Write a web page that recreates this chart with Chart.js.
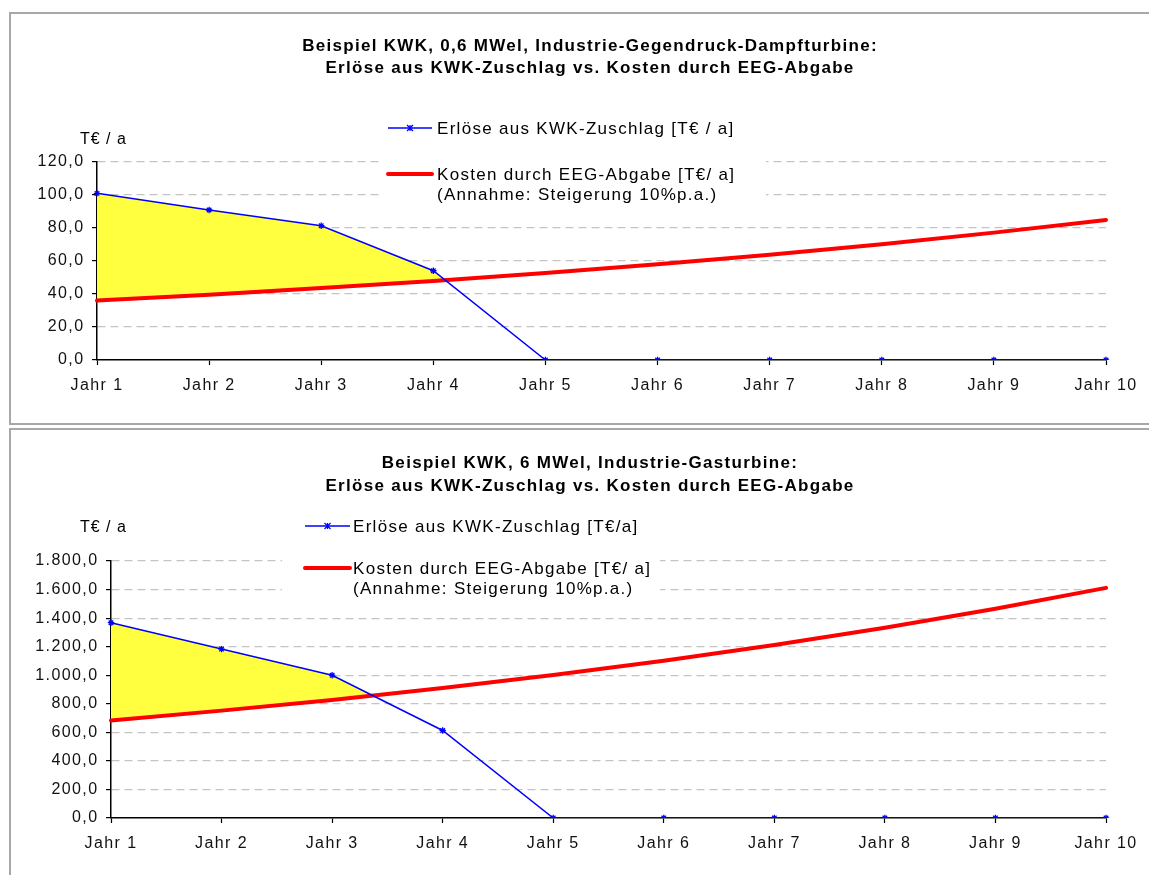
<!DOCTYPE html>
<html>
<head>
<meta charset="utf-8">
<script src="https://cdn.jsdelivr.net/npm/chart.js@4.4.1/dist/chart.umd.min.js"></script>
<style>
  body { margin: 0; background: #fff; width: 1149px; height: 875px; overflow: hidden; position: relative; }
  .rahmen { position: absolute; border: 2px solid #a8a8a8; box-sizing: border-box; }
  canvas { position: absolute; left: 0; }
</style>
</head>
<body>
<div class="rahmen" style="left:9px; top:12px; width:1160px; height:413px;"></div>
<div class="rahmen" style="left:9px; top:428px; width:1160px; height:460px;"></div>
<canvas id="chartDampf" width="1149" height="425" style="top:0"></canvas>
<canvas id="chartGas" width="1149" height="447" style="top:428px"></canvas>
<script>
// Daten
const jahre = ['Jahr 1', 'Jahr 2', 'Jahr 3', 'Jahr 4', 'Jahr 5', 'Jahr 6', 'Jahr 7', 'Jahr 8', 'Jahr 9', 'Jahr 10'];

// 0,6 MWel Gegendruck-Dampfturbine
const erloesDampf = [101.0, 90.9, 81.4, 54.1, 0, 0, 0, 0, 0, 0];
const kostenDampf = [36.0, 39.6, 43.6, 47.9, 52.7, 58.0, 63.8, 70.1, 77.2, 84.9];

// 6 MWel Gasturbine
const erloesGas = [1368, 1183, 1000, 613, 0, 0, 0, 0, 0, 0];
const kostenGas = [683, 752, 827, 910, 1001, 1101, 1211, 1332, 1465, 1612];

const titelDampf = ['Beispiel KWK, 0,6 MWel, Industrie-Gegendruck-Dampfturbine:', 'Erlöse aus KWK-Zuschlag vs. Kosten durch EEG-Abgabe'];
const titelGas = ['Beispiel KWK, 6 MWel, Industrie-Gasturbine:', 'Erlöse aus KWK-Zuschlag vs. Kosten durch EEG-Abgabe'];

const FONT = "'Liberation Sans', Arial, sans-serif";

// Titel, Einheit und Legende zeichnen
const deko = {
  id: 'deko',
  beforeDraw(chart) {
    // Achsenbeschriftung etwas breiter, wie im Original
    chart.ctx.letterSpacing = '1.4px';
  },
  beforeDatasetsDraw(chart, args, opts) {
    const ctx = chart.ctx;
    const b = opts.legende.box;
    ctx.save();
    ctx.fillStyle = '#fff';
    ctx.fillRect(b[0], b[1], b[2], b[3]);
    ctx.restore();
  },
  afterDraw(chart, args, opts) {
    const ctx = chart.ctx;
    ctx.save();
    ctx.fillStyle = '#000';
    ctx.textBaseline = 'alphabetic';

    ctx.font = 'bold 17px ' + FONT;
    ctx.letterSpacing = '1.3px';
    ctx.textAlign = 'center';
    opts.titel.forEach((t, i) => ctx.fillText(t, opts.titelX, opts.titelY[i]));

    ctx.font = '16px ' + FONT;
    ctx.letterSpacing = '1px';
    ctx.textAlign = 'left';
    ctx.fillText('T€ / a', opts.einheitX, opts.einheitY);

    const lg = opts.legende;
    ctx.font = '17px ' + FONT;
    ctx.letterSpacing = '1.3px';
    chart.data.datasets.forEach((d, i) => {
      const y = lg.zeilen[i];
      ctx.save();
      ctx.strokeStyle = d.borderColor;
      ctx.lineWidth = d.borderWidth;
      ctx.lineCap = i === 1 ? 'round' : 'butt';
      ctx.beginPath();
      ctx.moveTo(lg.x1, y);
      ctx.lineTo(lg.x2, y);
      ctx.stroke();
      if (i === 0) {
        ctx.lineWidth = 1.2;
        const m = (lg.x1 + lg.x2) / 2;
        ctx.beginPath();
        ctx.moveTo(m - 3, y - 3); ctx.lineTo(m + 3, y + 3);
        ctx.moveTo(m - 3, y + 3); ctx.lineTo(m + 3, y - 3);
        ctx.moveTo(m, y - 3); ctx.lineTo(m, y + 3);
        ctx.stroke();
      }
      ctx.restore();
      d.label.split('\n').forEach((t, k) => ctx.fillText(t, lg.textX, y + 6 + k * 20));
    });
    ctx.restore();
  }
};

function germanTick(v) {
  return v.toLocaleString('de-DE', { minimumFractionDigits: 1, maximumFractionDigits: 1 });
}

function makeChart(id, erloes, kosten, yMax, yStep, erloesLabel, layout) {
  const el = document.getElementById(id);
  return new Chart(el, {
    type: 'line',
    data: {
      labels: jahre,
      datasets: [
        {
          label: erloesLabel,
          data: erloes,
          borderColor: '#0000ff',
          borderWidth: 1.5,
          pointStyle: 'star',
          pointRadius: 3.2,
          pointBorderColor: '#0000ff',
          pointBorderWidth: 1.3,
          tension: 0,
          fill: { target: 1, above: '#ffff40', below: 'rgba(0,0,0,0)' }
        },
        {
          label: 'Kosten durch EEG-Abgabe [T€/ a]\n(Annahme: Steigerung 10%p.a.)',
          data: kosten,
          borderColor: '#ff0000',
          borderWidth: 4,
          borderCapStyle: 'round',
          pointRadius: 0,
          tension: 0,
          fill: false
        }
      ]
    },
    options: {
      responsive: false,
      animation: false,
      events: [],
      layout: { padding: layout.padding },
      plugins: {
        legend: { display: false },
        title: { display: false },
        tooltip: { enabled: false },
        filler: { drawTime: 'beforeDatasetsDraw' },
        deko: layout.deko
      },
      scales: {
        x: {
          offset: false,
          grid: { drawOnChartArea: false, tickLength: 5, tickColor: '#000', tickWidth: 1.2 },
          border: { color: '#000', width: 1.5 },
          ticks: { color: '#111', font: { family: FONT, size: 16 }, padding: 11, maxRotation: 0, autoSkip: false },
          afterFit: s => { s.height = layout.xHeight; }
        },
        y: {
          min: 0,
          max: yMax,
          ticks: { stepSize: yStep, color: '#111', font: { family: FONT, size: 16 }, padding: 7.5, callback: germanTick },
          grid: {
            color: c => (c.tick && c.tick.value === 0) ? 'rgba(0,0,0,0)' : '#c4c4c4',
            lineWidth: 1.2,
            tickColor: '#000',
            tickLength: 5,
            tickWidth: 1.2
          },
          border: { color: '#000', width: 1.5, dash: [8, 5] },
          afterFit: s => { s.width = layout.yWidth; }
        }
      }
    },
    plugins: [deko]
  });
}

makeChart('chartDampf', erloesDampf, kostenDampf, 120, 20, 'Erlöse aus KWK-Zuschlag [T€ / a]', {
  padding: { left: 0, top: 162, right: 43, bottom: 0 },
  yWidth: 97,
  xHeight: 65,
  deko: {
    titel: titelDampf, titelX: 590, titelY: [51, 73],
    einheitX: 80, einheitY: 144,
    legende: { box: [380, 108, 386, 98], x1: 388, x2: 432, textX: 437, zeilen: [128, 174] }
  }
});

makeChart('chartGas', erloesGas, kostenGas, 1800, 200, 'Erlöse aus KWK-Zuschlag [T€/a]', {
  padding: { left: 0, top: 133, right: 43, bottom: 0 },
  yWidth: 111,
  xHeight: 57,
  deko: {
    titel: titelGas, titelX: 590, titelY: [40, 63],
    einheitX: 80, einheitY: 104,
    legende: { box: [282, 76, 378, 102], x1: 305, x2: 350, textX: 353, zeilen: [98, 140] }
  }
});
</script>
</body>
</html>
